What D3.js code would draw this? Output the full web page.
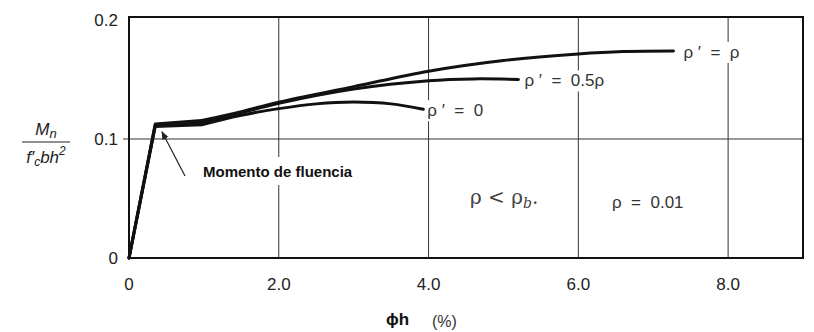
<!DOCTYPE html>
<html>
<head>
<meta charset="utf-8">
<script src="https://cdn.jsdelivr.net/npm/d3@7.9.0/dist/d3.min.js"></script>
<style>
  body { margin: 0; background: #fff; }
  svg { display: block; }
</style>
</head>
<body>
<div id="chart"></div>
<script>
// curvature (%) vs. normalised moment, three compression-steel ratios
const xTicks = [0, 2, 4, 6, 8];
const xTickLabels = ['0', '2.0', '4.0', '6.0', '8.0'];
const yTicks = [0, 0.1, 0.2];
const yTickLabels = ['0', '0.1', '0.2'];

const rhoEqual = [[0, 0], [0.35, 0.1125], [0.97, 0.1155], [1.5, 0.123], [2.0, 0.131], [3.0, 0.144], [4.0, 0.157], [5.0, 0.166], [6.0, 0.1715], [6.6, 0.1735], [7.27, 0.174]];
const rhoHalf  = [[0, 0], [0.35, 0.1115], [0.97, 0.1135], [1.5, 0.122], [2.0, 0.130], [3.0, 0.142], [4.0, 0.149], [4.6, 0.1505], [5.2, 0.150]];
const rhoZero  = [[0, 0], [0.35, 0.1105], [0.97, 0.112], [1.5, 0.120], [2.0, 0.1255], [2.5, 0.1295], [3.0, 0.131], [3.5, 0.1295], [3.93, 0.125]];

const W = 814, H = 332;

const svg = d3.select('#chart').append('svg')
    .attr('width', W).attr('height', H)
    .style('font-family', 'Liberation Sans, Arial, sans-serif');

const x = d3.scaleLinear().domain([0, 9]).range([129, 803]);
const y = d3.scaleLinear().domain([0, 0.2025]).range([258, 17]);
const yTop = y.domain()[1];

// grid
svg.append('g').selectAll('line')
    .data(xTicks.slice(1))
    .join('line')
    .attr('x1', d => x(d)).attr('x2', d => x(d))
    .attr('y1', y(yTop)).attr('y2', y(0))
    .attr('stroke', '#333').attr('stroke-width', 1);

svg.append('line')
    .attr('x1', x(0) - 6).attr('x2', x(9))
    .attr('y1', y(0.1)).attr('y2', y(0.1))
    .attr('stroke', '#333').attr('stroke-width', 1);

// frame
svg.append('rect')
    .attr('x', x(0)).attr('y', y(yTop))
    .attr('width', x(9) - x(0)).attr('height', y(0) - y(yTop))
    .attr('fill', 'none').attr('stroke', '#111').attr('stroke-width', 2);

// tick labels
svg.append('g').selectAll('text')
    .data(xTicks)
    .join('text')
    .attr('x', d => x(d)).attr('y', y(0) + 32)
    .attr('text-anchor', 'middle')
    .attr('font-size', 17).attr('fill', '#222')
    .text((d, i) => xTickLabels[i]);

svg.append('g').selectAll('text')
    .data(yTicks)
    .join('text')
    .attr('x', x(0) - 11).attr('y', d => y(d) + 6)
    .attr('text-anchor', 'end')
    .attr('font-size', 17).attr('fill', '#222')
    .text((d, i) => yTickLabels[i]);

// curves: sharp elastic branch + plateau, smooth after the kink
const straight = d3.line().x(d => x(d[0])).y(d => y(d[1]));
const smooth = d3.line().x(d => x(d[0])).y(d => y(d[1])).curve(d3.curveCatmullRom.alpha(0.5));
const curveG = svg.append('g')
    .attr('fill', 'none').attr('stroke', '#111')
    .attr('stroke-width', 3).attr('stroke-linejoin', 'round').attr('stroke-linecap', 'round');
[rhoZero, rhoHalf, rhoEqual].forEach(s => {
    curveG.append('path').attr('d', straight(s.slice(0, 3)));
    curveG.append('path').attr('d', smooth(s.slice(2)));
});

// curve labels with white backing
const curveLabels = [
    { pts: rhoEqual, text: "ρ ′  =  ρ", dx: 10 },
    { pts: rhoHalf, text: "ρ ′  =  0.5ρ", dx: 6 },
    { pts: rhoZero, text: "ρ ′  =  0", dx: 4 }
];
curveLabels.forEach(c => {
    const p = c.pts[c.pts.length - 1];
    const t = svg.append('text')
        .attr('x', x(p[0]) + c.dx).attr('y', y(p[1]) + 7)
        .attr('font-size', 17).attr('fill', '#333')
        .style('white-space', 'pre')
        .text(c.text);
    const b = t.node().getBBox();
    svg.insert('rect', () => t.node())
        .attr('x', b.x - 2).attr('y', b.y - 1)
        .attr('width', b.width + 4).attr('height', b.height + 2)
        .attr('fill', '#fff');
});

// annotations in the plot
svg.append('text')
    .attr('x', 470).attr('y', 204)
    .attr('font-size', 20).attr('fill', '#444')
    .attr('font-family', 'DejaVu Serif, serif')
    .html('ρ &lt; ρ<tspan font-size="14" font-style="italic" dy="4">b</tspan><tspan dy="-4">.</tspan>');

svg.append('text')
    .attr('x', 612).attr('y', 208)
    .attr('font-size', 17).attr('fill', '#333')
    .style('white-space', 'pre')
    .text('ρ  =  0.01');

// yield moment callout
svg.append('defs').append('marker')
    .attr('id', 'arrow')
    .attr('viewBox', '0 0 10 10').attr('refX', 9).attr('refY', 5)
    .attr('markerWidth', 7).attr('markerHeight', 7)
    .attr('orient', 'auto')
    .append('path').attr('d', 'M0,1 L10,5 L0,9 Z').attr('fill', '#222');

svg.append('line')
    .attr('x1', 185).attr('y1', 176)
    .attr('x2', x(0.44)).attr('y2', y(0.106))
    .attr('stroke', '#222').attr('stroke-width', 1.2)
    .attr('marker-end', 'url(#arrow)');

svg.append('rect')
    .attr('x', 193).attr('y', 157).attr('width', 196).attr('height', 28)
    .attr('fill', '#fff');

svg.append('text')
    .attr('x', 203).attr('y', 177)
    .attr('font-size', 15).attr('font-weight', 'bold').attr('fill', '#111')
    .text('Momento de fluencia');

// y-axis label as a fraction
const yl = svg.append('g').attr('transform', 'translate(46,0)')
    .attr('font-style', 'italic').attr('fill', '#222');
yl.append('text').attr('x', 0).attr('y', 135)
    .attr('text-anchor', 'middle').attr('font-size', 17)
    .html('M<tspan font-size="13" dy="3">n</tspan>');
yl.append('line').attr('x1', -24).attr('x2', 24)
    .attr('y1', 142).attr('y2', 142)
    .attr('stroke', '#222').attr('stroke-width', 1.2);
yl.append('text').attr('x', 0).attr('y', 163)
    .attr('text-anchor', 'middle').attr('font-size', 17)
    .html('f′<tspan font-size="12" dy="3">c</tspan><tspan dy="-3">bh</tspan><tspan font-size="12" dy="-8">2</tspan>');

// x-axis label
svg.append('text')
    .attr('x', 386).attr('y', 325)
    .attr('font-size', 17).attr('font-weight', 'bold').attr('fill', '#111')
    .text('ϕh');
svg.append('text')
    .attr('x', 432).attr('y', 327)
    .attr('font-size', 16).attr('fill', '#333')
    .text('(%)');
</script>
</body>
</html>
